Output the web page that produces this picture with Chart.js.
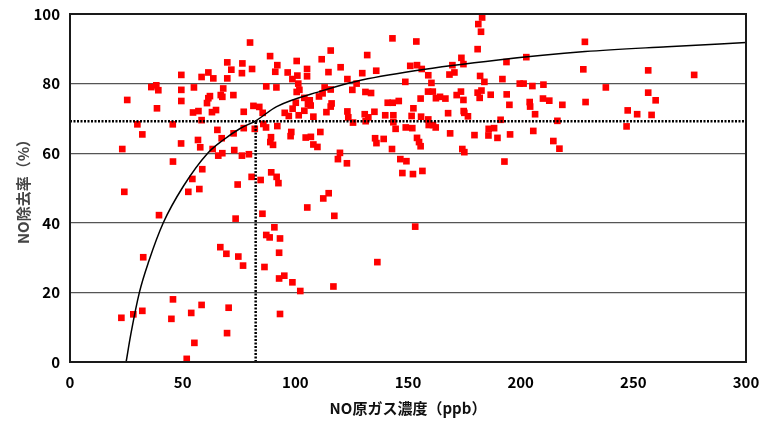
<!DOCTYPE html>
<html>
<head>
<meta charset="utf-8">
<script src="https://cdn.jsdelivr.net/npm/chart.js@4/dist/chart.umd.min.js"></script>
<style>
  html, body { margin: 0; padding: 0; background: #ffffff; }
  #wrap { width: 763px; height: 421px; }
</style>
</head>
<body>
<div id="wrap"><canvas id="c" width="763" height="421"></canvas></div>
<script>
// NO source-gas concentration (ppb) of each measurement
const noX = [
  69.8,76.5,71.6,76.3,49.4,61.4,58.4,63.6,69.8,36.1,38.3,39.2,49.4,55.0,68.0,66.9,62.1,67.6,72.5,25.4,
  49.4,60.8,61.4,38.6,57.0,54.6,64.8,63.0,77.1,58.4,29.9,45.6,32.1,65.4,67.3,72.6,77.1,56.8,49.3,57.8,
  23.2,63.3,65.8,67.6,72.9,76.3,45.7,58.7,54.3,74.4,57.4,
  24.1,52.5,39.5,73.5,66.7,69.4,74.7,76.8,32.5,45.7,58.4,22.8,28.1,32.1,45.0,53.8,70.4,69.7,55.2,51.8,
  79.9,80.8,88.8,92.0,91.1,100.6,96.6,98.7,100.9,105.2,105.2,111.7,115.7,114.7,120.1,131.9,143.1,129.7,135.9,123.1,
  127.2,151.0,148.8,87.1,91.6,101.3,101.8,100.6,113.0,115.7,112.1,110.5,104.0,125.3,131.1,133.6,81.4,84.0,85.5,95.3,
  98.8,100.2,106.4,105.6,106.8,104.0,101.5,97.1,108.0,113.8,116.1,115.7,123.1,123.5,125.6,130.8,132.4,135.1,131.2,139.9,
  141.0,143.2,145.9,143.5,143.5,144.5,149.0,151.6,152.4,151.9,82.0,85.8,87.0,92.0,98.2,97.9,106.9,111.1,104.6,108.0,
  109.8,89.2,88.9,90.1,119.8,118.9,122.9,135.4,136.0,139.2,142.9,146.6,149.3,147.5,152.2,79.4,80.6,84.6,89.3,91.7,92.5,
  114.8,112.4,105.3,117.3,85.4,90.7,87.1,88.6,93.2,92.8,86.3,92.8,95.1,98.7,102.2,116.9,136.4,93.2,153.2,
  182.9,181.2,182.4,153.7,180.9,173.7,202.5,174.6,193.7,154.0,156.1,169.7,170.6,168.4,159.0,182.0,183.9,191.9,160.4,199.6,
  201.3,205.2,210.1,228.5,227.8,158.9,161.0,155.6,162.4,164.2,166.6,171.6,173.5,174.6,180.9,182.6,181.8,186.7,193.8,195.0,
  204.0,204.2,209.9,212.7,218.5,228.8,155.8,159.0,159.2,161.1,162.3,167.8,174.7,175.0,176.6,191.1,206.4,216.3,154.0,154.9,
  155.6,168.7,179.5,185.8,188.2,185.7,189.7,195.3,205.6,214.5,217.2,174.1,175.0,192.8,156.4,
  256.6,277.0,237.8,256.6,259.9,247.5,251.7,258.1,247.0
];
// NO removal rate (%) of each measurement
const noY = [
  86.1,85.8,84.0,83.0,82.5,83.2,81.9,81.5,81.5,79.0,79.5,78.1,78.2,78.9,78.6,76.7,76.4,76.2,76.7,75.3,
  75.0,74.4,75.8,72.9,72.1,71.7,72.4,71.8,71.9,69.5,68.3,68.3,65.4,66.7,64.3,65.7,67.2,63.8,62.8,61.7,
  61.2,61.2,59.3,60.0,60.9,59.3,57.6,55.4,52.6,51.0,49.7,
  48.9,48.9,42.2,41.2,33.0,31.1,30.3,27.7,30.1,18.0,16.4,12.7,13.7,14.7,12.4,14.1,15.6,8.3,5.5,0.9,
  91.8,84.2,87.9,85.3,83.4,86.5,83.2,81.3,82.3,84.2,82.1,87.0,89.5,83.3,84.7,88.2,93.0,83.0,83.7,81.3,
  80.0,85.1,80.5,79.2,78.9,80.0,78.2,77.6,78.9,78.3,77.2,76.3,75.9,78.2,77.6,77.3,73.6,73.3,71.6,71.6,
  72.8,74.5,75.2,74.1,73.7,72.2,70.9,70.7,70.5,71.8,74.3,73.4,72.0,70.3,68.8,71.2,70.3,71.9,69.2,70.9,
  74.5,74.5,75.0,70.9,68.9,67.0,67.4,70.7,72.9,67.2,67.0,68.4,67.4,67.8,66.1,64.9,64.7,66.1,64.5,62.5,
  61.8,64.6,63.2,62.4,60.1,58.3,57.1,64.3,62.9,64.1,61.2,58.3,57.7,54.3,54.0,59.7,53.2,52.3,54.5,53.2,51.4,
  48.5,47.0,44.4,42.0,42.6,38.7,36.5,35.8,35.5,31.4,27.3,24.0,24.8,22.9,20.4,21.7,28.7,13.8,38.9,
  99.0,97.1,94.9,92.1,89.9,87.4,87.6,85.6,86.2,85.3,84.2,85.3,83.2,82.6,82.4,82.2,80.5,81.3,80.2,80.0,
  80.0,79.3,79.7,92.0,84.1,77.7,77.7,75.7,75.8,76.2,75.7,76.7,77.7,75.3,77.4,78.0,75.9,76.8,76.9,73.9,
  74.7,73.4,75.7,75.1,73.9,74.7,70.5,69.7,68.1,68.1,67.4,71.5,72.1,71.6,70.6,69.6,71.2,69.3,64.4,63.2,
  62.0,65.7,65.2,67.0,67.2,65.1,64.4,65.4,66.4,63.5,61.3,61.2,60.3,57.6,54.9,
  83.8,82.5,78.9,77.4,75.2,72.3,71.2,71.0,67.7
];
// Fitted curve
const curveX = [24.9, 27.0, 30.8, 35.0, 41.4, 50.3, 61.1, 68.0, 75.5, 82.4, 91.7, 111.7, 127.2, 153.0, 190.0, 228.6, 265.0, 300.0];
const curveY = [0.0, 8.0, 20.0, 29.0, 40.0, 50.5, 60.0, 63.8, 67.1, 69.3, 73.4, 77.9, 80.7, 83.7, 86.8, 89.2, 90.6, 91.8];
// Reference (dotted) lines
const refX = 82.4;
const refY = 69.2;
// Axis ticks
const xTicks = [0, 50, 100, 150, 200, 250, 300];
const yTicks = [0, 20, 40, 60, 80, 100];

const FONT = "'Noto Sans CJK JP', 'Noto Sans', sans-serif";

const frame = {
  id: 'frame',
  afterDatasetsDraw(chart) {
    const a = chart.chartArea, ctx = chart.ctx;
    ctx.save();
    ctx.strokeStyle = '#1a1a1a';
    ctx.lineWidth = 2;
    ctx.strokeRect(a.left, a.top, a.right - a.left, a.bottom - a.top);
    ctx.restore();
  }
};

function noScalePad(s) {
  s.paddingTop = 0; s.paddingBottom = 0; s.paddingLeft = 0; s.paddingRight = 0;
}

new Chart(document.getElementById('c'), {
  type: 'scatter',
  data: {
    datasets: [
      {
        data: noX.map((x, i) => ({ x: x, y: noY[i] })),
        pointStyle: 'rect',
        pointRadius: 4.7,
        pointHoverRadius: 4.7,
        backgroundColor: '#ff0000',
        borderColor: '#ff0000',
        borderWidth: 0,
        order: 2
      },
      {
        data: curveX.map((x, i) => ({ x: x, y: curveY[i] })),
        showLine: true,
        borderColor: '#000000',
        borderWidth: 1.5,
        pointRadius: 0,
        cubicInterpolationMode: 'monotone',
        order: 1
      },
      {
        data: [{ x: xTicks[0], y: refY }, { x: xTicks[xTicks.length - 1], y: refY }],
        showLine: true,
        borderColor: '#000000',
        borderWidth: 2.5,
        borderDash: [2, 1.5],
        pointRadius: 0,
        order: 0
      },
      {
        data: [{ x: refX, y: 0 }, { x: refX, y: refY }],
        showLine: true,
        borderColor: '#000000',
        borderWidth: 2.5,
        borderDash: [2, 1.5],
        pointRadius: 0,
        order: 0
      }
    ]
  },
  options: {
    responsive: false,
    animation: false,
    events: [],
    layout: { padding: { top: 14, right: 17, left: 0, bottom: 0 } },
    plugins: { legend: { display: false }, tooltip: { enabled: false } },
    scales: {
      x: {
        type: 'linear',
        min: 0, max: 300,
        afterBuildTicks: (s) => { s.ticks = xTicks.map(v => ({ value: v })); },
        afterFit: (s) => { s.height = 59; noScalePad(s); },
        grid: { display: false, drawTicks: false },
        border: { display: true, color: '#000000', width: 2 },
        ticks: { padding: 11, color: '#000000', font: { family: FONT, size: 15, weight: 'bold' } },
        title: {
          display: true,
          text: 'NO原ガス濃度（ppb）',
          color: '#111111',
          padding: { top: 0, bottom: 4 },
          font: { family: FONT, size: 15, weight: 'bold' }
        }
      },
      y: {
        type: 'linear',
        min: 0, max: 100,
        afterBuildTicks: (s) => { s.ticks = yTicks.map(v => ({ value: v })); },
        afterFit: (s) => { s.width = 70; noScalePad(s); },
        grid: { color: '#555555', lineWidth: 1.3, drawTicks: false },
        border: { display: true, color: '#000000', width: 2 },
        ticks: { padding: 10, color: '#000000', font: { family: FONT, size: 15, weight: 'bold' } },
        title: {
          display: true,
          text: 'NO除去率（%）',
          color: '#444444',
          padding: { top: 14, bottom: 0 },
          font: { family: FONT, size: 15, weight: 'bold' }
        }
      }
    }
  },
  plugins: [frame]
});
</script>
</body>
</html>
